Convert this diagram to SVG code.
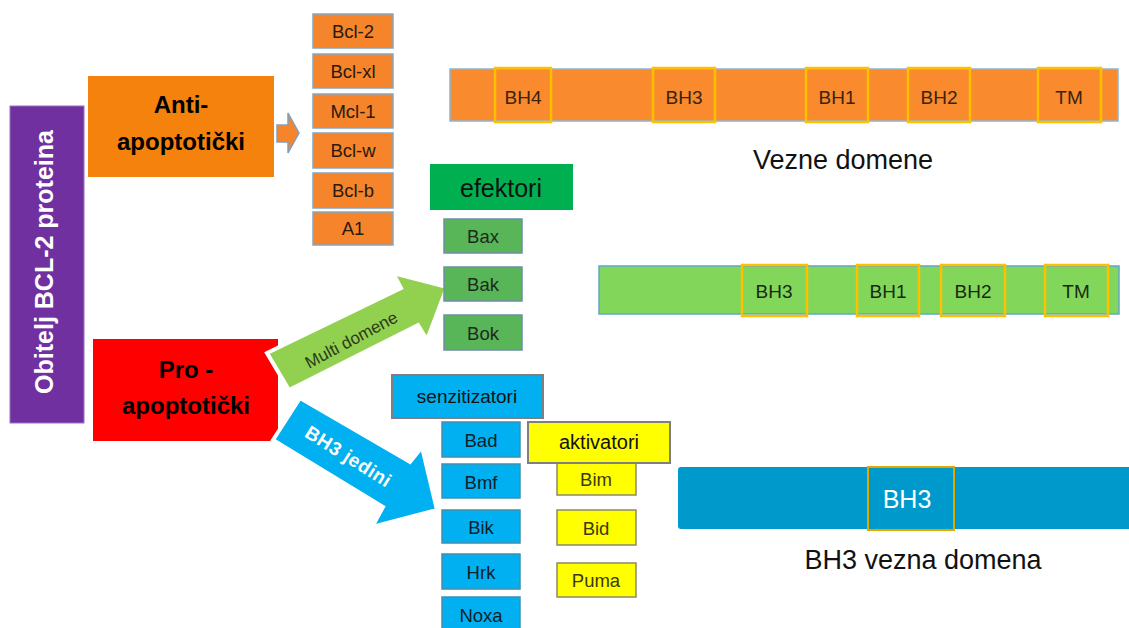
<svg xmlns="http://www.w3.org/2000/svg" width="1129" height="628" viewBox="0 0 1129 628">
<style>
text{font-family:"Liberation Sans",Arial,sans-serif;text-anchor:middle;}
.big{font-size:24px;font-weight:bold;fill:#000;}
.lbl{font-size:18.5px;fill:#2a1a10;}
.org{fill:#F5842A;stroke:#86A6C2;stroke-width:1.5;}
.grn{fill:#58B558;stroke:#6F8FA8;stroke-width:1.5;}
.cyn{fill:#00B0F0;stroke:#3E90B0;stroke-width:1.5;}
.yel{fill:#FFFF00;stroke:#8A8A6A;stroke-width:1.5;}
.dom{fill:none;stroke:#FFC000;stroke-width:2.5;}
.dt{font-size:19px;fill:#3a2410;}
.cap{font-size:27px;fill:#111;}
</style>
<rect width="1129" height="628" fill="#fff"/>

<g id="obitelj">
<rect x="10" y="106" width="74" height="317" fill="#7030A0" stroke="#9a70c0" stroke-width="1"/>
<text class="big" transform="translate(53,262) rotate(-90)" style="fill:#fff;font-size:25px">Obitelj BCL-2 proteina</text>
</g>

<g id="anti">
<rect x="88" y="76" width="186" height="101" fill="#F4820D"/>
<text class="big" x="181" y="113">Anti-</text>
<text class="big" x="181" y="150">apoptotički</text>
</g>

<g id="pro">
<rect x="93" y="339" width="185" height="102" fill="#FF0000"/>
<text class="big" x="186" y="378">Pro -</text>
<text class="big" x="186" y="414">apoptotički</text>
</g>

<g id="connectors">
<polygon points="277,125 288,125 288,113 299,133 288,153 288,142 277,142" fill="#F5842A" stroke="#7FA0BE" stroke-width="1.5"/>
<polygon points="267,353 401,288 393,273 447,287 427,340 418,325 289,390" fill="#92D050" stroke="#fff" stroke-width="4" stroke-linejoin="miter"/>
<text transform="translate(354,345) rotate(-28)" style="font-size:17px;fill:#2a3a1a">Multi domene</text>
<polygon points="300,398 410,462 422,447 437,510 372,527 383,507 273,440" fill="#00B0F0" stroke="#fff" stroke-width="4" stroke-linejoin="miter"/>
<text transform="translate(345,462) rotate(32)" style="font-size:19px;fill:#fff;font-weight:bold;letter-spacing:0.5px">BH3  jedini</text>
</g>

<g id="anti-list">
<rect class="org" x="313" y="14" width="80" height="34"/><text class="lbl" x="353" y="38">Bcl-2</text>
<rect class="org" x="313" y="54" width="80" height="34"/><text class="lbl" x="353" y="78">Bcl-xl</text>
<rect class="org" x="313" y="94" width="80" height="34"/><text class="lbl" x="353" y="118">Mcl-1</text>
<rect class="org" x="313" y="133" width="80" height="35"/><text class="lbl" x="353" y="157">Bcl-w</text>
<rect class="org" x="313" y="173" width="80" height="35"/><text class="lbl" x="353" y="197">Bcl-b</text>
<rect class="org" x="313" y="212" width="80" height="33"/><text class="lbl" x="353" y="235">A1</text>
</g>

<g id="efektori">
<rect x="430" y="164" width="143" height="46" fill="#00B050"/>
<text x="501" y="197" style="font-size:25px;fill:#111">efektori</text>
<rect class="grn" x="444" y="219" width="78" height="34"/><text class="lbl" x="483" y="243" style="fill:#1f2a1f">Bax</text>
<rect class="grn" x="444" y="267" width="78" height="34"/><text class="lbl" x="483" y="291" style="fill:#1f2a1f">Bak</text>
<rect class="grn" x="444" y="315" width="78" height="35"/><text class="lbl" x="483" y="340" style="fill:#1f2a1f">Bok</text>
</g>

<g id="senzitizatori">
<rect x="392" y="375" width="151" height="43" fill="#00B0F0" stroke="#7F7F7F" stroke-width="2"/>
<text x="467" y="403" style="font-size:19px;fill:#111">senzitizatori</text>
<rect class="cyn" x="442" y="422" width="78" height="35"/><text class="lbl" x="481" y="447" style="fill:#10202a">Bad</text>
<rect class="cyn" x="442" y="464" width="78" height="34"/><text class="lbl" x="481" y="489" style="fill:#10202a">Bmf</text>
<rect class="cyn" x="442" y="510" width="78" height="33"/><text class="lbl" x="481" y="534" style="fill:#10202a">Bik</text>
<rect class="cyn" x="442" y="554" width="78" height="35"/><text class="lbl" x="481" y="579" style="fill:#10202a">Hrk</text>
<rect class="cyn" x="442" y="597" width="78" height="40"/><text class="lbl" x="481" y="622" style="fill:#10202a">Noxa</text>
</g>

<g id="aktivatori">
<rect class="yel" x="557" y="455" width="79" height="40"/><text class="lbl" x="596" y="486" style="fill:#3a3a10">Bim</text>
<rect class="yel" x="557" y="510" width="79" height="35"/><text class="lbl" x="596" y="535" style="fill:#3a3a10">Bid</text>
<rect class="yel" x="557" y="563" width="79" height="34"/><text class="lbl" x="596" y="587" style="fill:#3a3a10">Puma</text>
<rect x="528" y="422" width="142" height="41" fill="#FFFF00" stroke="#7F7F7F" stroke-width="2"/>
<text x="599" y="449" style="font-size:20px;fill:#111">aktivatori</text>
</g>

<g id="anti-domene">
<rect x="450" y="69" width="668" height="52" fill="#F98A2D" stroke="#8FB4D0" stroke-width="1.5"/>
<rect class="dom" x="495" y="68" width="56" height="54"/><text class="dt" x="523" y="104">BH4</text>
<rect class="dom" x="653" y="68" width="62" height="54"/><text class="dt" x="684" y="104">BH3</text>
<rect class="dom" x="806" y="68" width="62" height="54"/><text class="dt" x="837" y="104">BH1</text>
<rect class="dom" x="908" y="68" width="62" height="54"/><text class="dt" x="939" y="104">BH2</text>
<rect class="dom" x="1038" y="68" width="63" height="54"/><text class="dt" x="1069" y="104">TM</text>
<text class="cap" x="843" y="169">Vezne domene</text>
</g>

<g id="efektori-domene">
<rect x="599" y="266" width="520" height="48" fill="#82D65A" stroke="#5FA8C8" stroke-width="1.5"/>
<rect class="dom" x="742" y="265" width="65" height="51"/><text class="dt" x="774" y="298" style="fill:#1a2a10">BH3</text>
<rect class="dom" x="857" y="265" width="62" height="51"/><text class="dt" x="888" y="298" style="fill:#1a2a10">BH1</text>
<rect class="dom" x="941" y="265" width="64" height="51"/><text class="dt" x="973" y="298" style="fill:#1a2a10">BH2</text>
<rect class="dom" x="1045" y="265" width="63" height="51"/><text class="dt" x="1076" y="298" style="fill:#1a2a10">TM</text>
</g>

<g id="bh3-domena">
<rect x="678" y="467" width="470" height="62" rx="3" fill="#0099CC"/>
<rect x="868" y="467" width="86" height="63" fill="none" stroke="#E0A800" stroke-width="2"/>
<text x="907" y="508" style="font-size:25px;fill:#fff">BH3</text>
<text class="cap" x="923" y="569">BH3 vezna domena</text>
</g>
</svg>
